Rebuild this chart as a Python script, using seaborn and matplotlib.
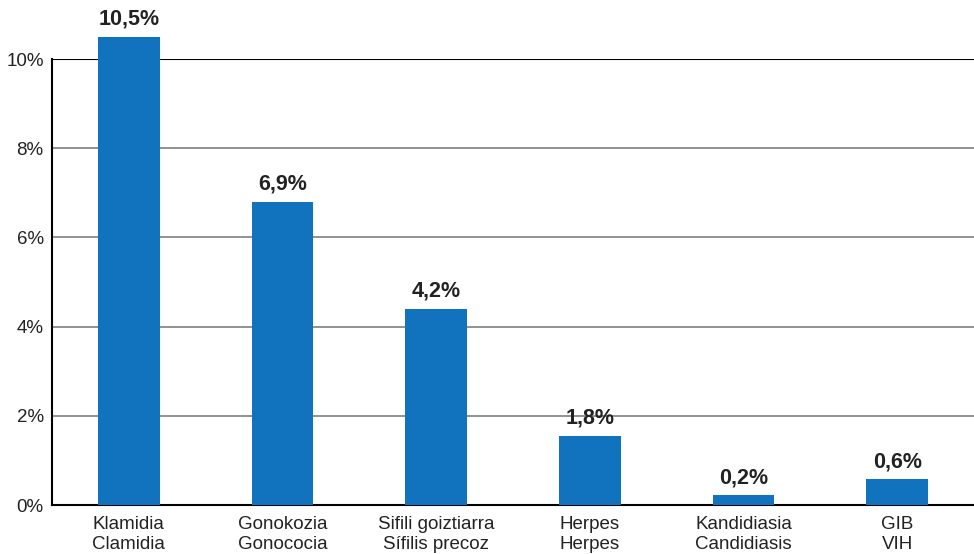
import pandas as pd
import matplotlib
matplotlib.use("Agg")
import matplotlib.pyplot as plt
import seaborn as sns

# Datos
categorias = ["Klamidia\nClamidia", "Gonokozia\nGonococia", "Sifili goiztiarra\nSífilis precoz",
              "Herpes\nHerpes", "Kandidiasia\nCandidiasis", "GIB\nVIH"]
valores = [10.5, 6.8, 4.4, 1.55, 0.22, 0.58]
etiquetas = ["10,5%", "6,9%", "4,2%", "1,8%", "0,2%", "0,6%"]
ticks_y = [0, 2, 4, 6, 8, 10]

sns.set_theme(style="white")
plt.rcParams['font.family'] = ['Liberation Sans', 'DejaVu Sans']

df = pd.DataFrame({"cat": categorias, "val": valores})

fig = plt.figure(figsize=(9.74, 5.54), dpi=100)
ax = fig.add_axes([0.0534, 0.0884, 0.9466, 0.805])

sns.barplot(data=df, x="cat", y="val", color="#1172be", saturation=1, width=0.4,
            linewidth=0, edgecolor="none", ax=ax, zorder=3)
for p in ax.patches:
    p.set_clip_on(False)

# Rejilla
for t in ticks_y[1:-1]:
    ax.axhline(t, color="#7f7f7f", linewidth=1.2, zorder=1)
ax.axhline(10, color="black", linewidth=1.5, zorder=1)

ax.set_ylim(0, 10)
ax.set_xlim(-0.5, len(categorias) - 0.5)
ax.set_yticks(ticks_y)
ax.set_yticklabels([f"{t}%" for t in ticks_y], fontsize=13.5, color="#222222")
ax.tick_params(axis="x", labelsize=13.5, labelcolor="#222222", pad=8, length=0)
ax.tick_params(axis="y", length=0, pad=6)
ax.set_xlabel("")
ax.set_ylabel("")

for s in ["top", "right"]:
    ax.spines[s].set_visible(False)
for s in ["left", "bottom"]:
    ax.spines[s].set_color("black")
    ax.spines[s].set_linewidth(1.5)

# Etiquetas de valor
for i, (v, lab) in enumerate(zip(valores, etiquetas)):
    ax.annotate(lab, (i, v), xytext=(0, 5), textcoords="offset points",
                ha="center", va="bottom", fontsize=15.5, fontweight="bold",
                color="#222222", annotation_clip=False)

fig.savefig("out.png", dpi=100)
